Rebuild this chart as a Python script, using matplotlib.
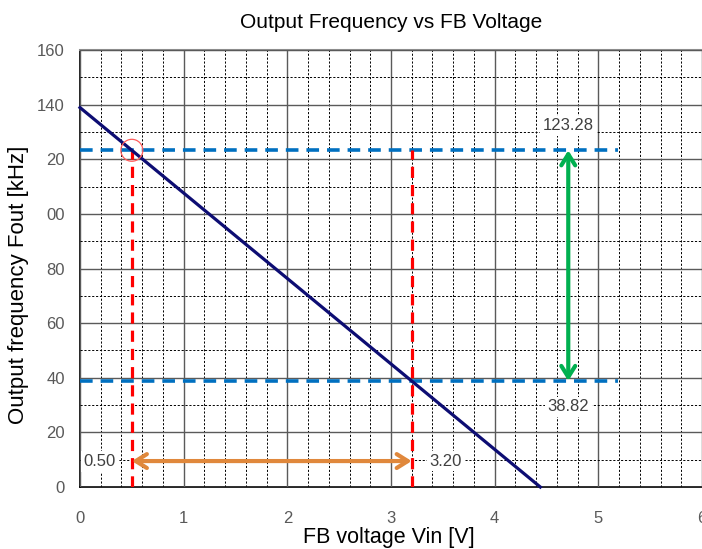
import numpy as np
import matplotlib.pyplot as plt
from matplotlib.ticker import MultipleLocator, FixedLocator

# characteristic line: FB voltage vs output frequency
vin = [0.0, 0.5, 3.2, 4.44]
fout = [138.92, 123.28, 38.82, 0.0]

# operating points
v_low, v_high = 0.50, 3.20
f_high, f_low = 123.28, 38.82

x_ticks = [0, 1, 2, 3, 4, 5, 6]
y_ticks = [0, 20, 40, 60, 80, 100, 120, 140, 160]
y_tick_labels = ['0', '20', '40', '60', '80', '00', '20', '140', '160']

plt.rcParams['font.family'] = ['Liberation Sans', 'DejaVu Sans']

fig = plt.figure(figsize=(7.02, 5.49), dpi=100)
ax = fig.add_axes([80 / 702, 1 - 487 / 549, 622 / 702, 437 / 549])

ax.set_xlim(0, 6)
ax.set_ylim(0, 160)
ax.xaxis.set_major_locator(FixedLocator(x_ticks))
ax.yaxis.set_major_locator(FixedLocator(y_ticks))
ax.set_yticklabels(y_tick_labels)
ax.xaxis.set_minor_locator(MultipleLocator(0.2))
ax.yaxis.set_minor_locator(MultipleLocator(10))

ax.grid(which='major', color='#5a5a5a', linewidth=1.0, zorder=0)
ax.grid(which='minor', color='black', linewidth=0.7, linestyle=(0, (2.2, 1.8)), zorder=0)
ax.tick_params(which='both', length=0)
ax.tick_params(axis='x', pad=17, labelsize=12, labelcolor='#595959')
ax.tick_params(axis='y', pad=11, labelsize=12, labelcolor='#595959')

for side in ['left', 'bottom']:
    ax.spines[side].set_color('black')
    ax.spines[side].set_linewidth(1.2)
ax.spines['top'].set_color('#8c8c8c')
ax.spines['top'].set_linewidth(1.5)
ax.spines['right'].set_visible(False)
for sp in ax.spines.values():
    sp.set_zorder(1)

# main characteristic
ax.plot([vin[0], vin[-1]], [fout[0], fout[-1]], color='#0d0d73', linewidth=2.3, zorder=4, clip_on=False)

# horizontal reference lines
ax.plot([0, 5.19], [f_high, f_high], color='#0070c0', linewidth=2.6, linestyle=(0, (3.5, 2.2)), zorder=3)
ax.plot([0, 5.19], [f_low, f_low], color='#0070c0', linewidth=2.6, linestyle=(0, (3.5, 2.2)), zorder=3)

# vertical reference lines
ax.plot([v_low, v_low], [0, f_high], color='#ff0000', linewidth=2.3, linestyle=(0, (3.5, 2.2)), zorder=3)
ax.plot([v_high, v_high], [0, f_high], color='#ff0000', linewidth=2.3, linestyle=(0, (3.5, 2.2)), zorder=3)

# circle around the upper operating point
ax.scatter([v_low], [f_high], s=250, facecolors='none', edgecolors='#ff5c5c', linewidths=0.9, zorder=5)

# arrows
ax.annotate('', xy=(4.71, f_low), xytext=(4.71, f_high),
            arrowprops=dict(arrowstyle='<->, head_length=0.8, head_width=0.5', color='#00b050', lw=3,
                            shrinkA=0, shrinkB=0), zorder=6)
ax.annotate('', xy=(v_high, 9.5), xytext=(v_low, 9.5),
            arrowprops=dict(arrowstyle='<->, head_length=0.8, head_width=0.5', color='#e0883c', lw=3,
                            shrinkA=0, shrinkB=0), zorder=6)

# value labels
box = dict(facecolor='white', edgecolor='none', pad=2)
ax.text(0.19, 9.3, '0.50', ha='center', va='center', fontsize=12, color='#404040', bbox=box, zorder=7,
        clip_on=False)
ax.text(3.53, 9.5, '3.20', ha='center', va='center', fontsize=12, color='#404040', bbox=box, zorder=7)
ax.text(4.71, 132.2, '123.28', ha='center', va='center', fontsize=12, color='#404040', bbox=box, zorder=7)
ax.text(4.71, 29.3, '38.82', ha='center', va='center', fontsize=12, color='#404040', bbox=box, zorder=7)

ax.set_title('Output Frequency vs FB Voltage', fontsize=15, pad=15.5)
ax.set_xlabel('FB voltage Vin [V]', fontsize=15.5)
ax.xaxis.set_label_coords((389 - 80) / 622, -(527 - 487) / 437)
ax.set_ylabel('Output frequency Fout [kHz]', fontsize=16)
ax.yaxis.set_label_coords(-(80 - 29) / 622, (487 - 285) / 437)

fig.savefig('out.png', dpi=100)
